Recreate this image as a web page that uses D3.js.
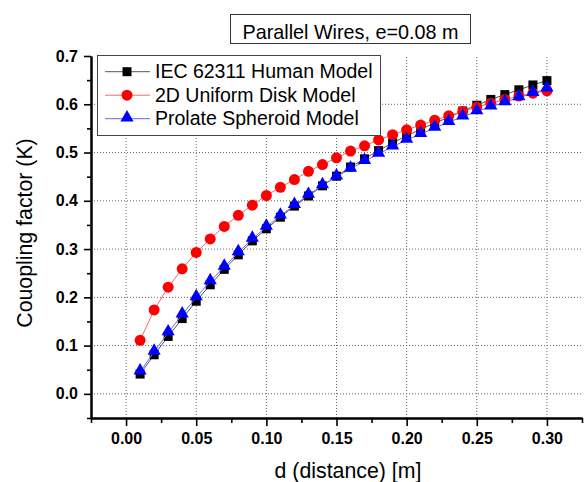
<!DOCTYPE html>
<html lang="en">
<head>
    <meta charset="UTF-8">
    <title>Coupling factor vs distance</title>
    <script src="https://d3js.org/d3.v7.min.js"></script>
    <style>
        body { margin: 0; background: #fff; }
        svg text { font-family: Arial, "Liberation Sans", sans-serif; }
    </style>
</head>
<body>
    <div id="chart"></div>
    <script>
        // distance values (m)
        var dist = [0.01, 0.02, 0.03, 0.04, 0.05, 0.06, 0.07, 0.08, 0.09, 0.10,
                    0.11, 0.12, 0.13, 0.14, 0.15, 0.16, 0.17, 0.18, 0.19, 0.20,
                    0.21, 0.22, 0.23, 0.24, 0.25, 0.26, 0.27, 0.28, 0.29, 0.30];

        var iecHuman = [0.041, 0.081, 0.119, 0.156, 0.192, 0.226, 0.258, 0.288, 0.317, 0.342,
                        0.366, 0.389, 0.410, 0.431, 0.451, 0.470, 0.487, 0.504, 0.520, 0.535,
                        0.548, 0.561, 0.573, 0.586, 0.598, 0.610, 0.620, 0.630, 0.640, 0.649];

        var uniformDisk = [0.111, 0.174, 0.221, 0.259, 0.293, 0.321, 0.347, 0.370, 0.391, 0.411,
                           0.428, 0.444, 0.461, 0.475, 0.489, 0.503, 0.514, 0.526, 0.537, 0.547,
                           0.557, 0.567, 0.576, 0.585, 0.594, 0.602, 0.610, 0.617, 0.623, 0.628];

        var prolate = [0.046, 0.087, 0.127, 0.164, 0.200, 0.233, 0.263, 0.293, 0.321, 0.346,
                       0.369, 0.391, 0.412, 0.432, 0.450, 0.466, 0.482, 0.497, 0.512, 0.526,
                       0.538, 0.551, 0.563, 0.574, 0.585, 0.595, 0.604, 0.614, 0.623, 0.632];

        var xTicks = [0.00, 0.05, 0.10, 0.15, 0.20, 0.25, 0.30];
        var yTicks = [0.0, 0.1, 0.2, 0.3, 0.4, 0.5, 0.6, 0.7];
        var xMinor = [-0.025, 0.025, 0.075, 0.125, 0.175, 0.225, 0.275, 0.325];
        var yMinor = [-0.05, 0.05, 0.15, 0.25, 0.35, 0.45, 0.55, 0.65];

        var seriesNames = ["IEC 62311 Human Model", "2D Uniform Disk Model", "Prolate Spheroid Model"];

        var W = 586, H = 482;
        var margin = {top: 56, right: 4, bottom: 64, left: 91};

        var svg = d3.select("#chart").append("svg")
            .attr("width", W)
            .attr("height", H);

        var x = d3.scaleLinear().domain([-0.025, 0.325]).range([margin.left, W - margin.right]);
        var y = d3.scaleLinear().domain([-0.05, 0.7]).range([H - margin.bottom, margin.top]);

        // dotted grid
        var grid = svg.append("g");
        grid.selectAll(".gx").data(xTicks).enter().append("line")
            .attr("x1", function(d){ return x(d); })
            .attr("x2", function(d){ return x(d); })
            .attr("y1", y(-0.05)).attr("y2", y(0.7))
            .attr("stroke", "#666").attr("stroke-width", 1).attr("stroke-dasharray", "1,2");
        grid.selectAll(".gy").data(yTicks.filter(function(d){ return d < 0.7; })).enter().append("line")
            .attr("x1", x(-0.025)).attr("x2", x(0.325))
            .attr("y1", function(d){ return y(d); })
            .attr("y2", function(d){ return y(d); })
            .attr("stroke", "#666").attr("stroke-width", 1).attr("stroke-dasharray", "1,2");

        // axes
        var xAxis = svg.append("g").attr("transform", "translate(0," + y(-0.05) + ")")
            .call(d3.axisBottom(x).tickValues(xTicks).tickSize(8).tickSizeOuter(0).tickPadding(7)
                .tickFormat(d3.format(".2f")));
        svg.append("g").attr("transform", "translate(0," + y(-0.05) + ")")
            .call(d3.axisBottom(x).tickValues(xMinor).tickSize(5).tickSizeOuter(0).tickFormat(""));

        var yAxis = svg.append("g").attr("transform", "translate(" + x(-0.025) + ",0)")
            .call(d3.axisLeft(y).tickValues(yTicks).tickSize(7).tickSizeOuter(0).tickPadding(6)
                .tickFormat(d3.format(".1f")));
        svg.append("g").attr("transform", "translate(" + x(-0.025) + ",0)")
            .call(d3.axisLeft(y).tickValues(yMinor).tickSize(4).tickSizeOuter(0).tickFormat(""));

        svg.selectAll(".domain").attr("stroke", "#000").attr("stroke-width", 2);
        svg.selectAll(".tick line").attr("stroke", "#000").attr("stroke-width", 1.6);
        xAxis.selectAll("text").attr("font-size", "16px").attr("font-weight", "bold")
            .attr("font-family", "Arial, 'Liberation Sans', sans-serif").attr("fill", "#000");
        yAxis.selectAll("text").attr("font-size", "16px").attr("font-weight", "bold")
            .attr("font-family", "Arial, 'Liberation Sans', sans-serif").attr("fill", "#000");

        // axis titles
        svg.append("text")
            .attr("x", 348).attr("y", 477.5)
            .attr("text-anchor", "middle")
            .attr("font-size", "21.3px")
            .text("d (distance) [m]");
        svg.append("text")
            .attr("transform", "translate(32,233) rotate(-90)")
            .attr("text-anchor", "middle")
            .attr("font-size", "21.3px")
            .text("Couopling factor (K)");

        // series
        var series = [
            {name: seriesNames[0], values: iecHuman, color: "#000", line: "#555", shape: "square"},
            {name: seriesNames[1], values: uniformDisk, color: "#ff0000", line: "#ff6666", shape: "circle"},
            {name: seriesNames[2], values: prolate, color: "#0000ff", line: "#6666ff", shape: "triangle"}
        ];

        var symbolFor = {
            square: d3.symbol().type(d3.symbolSquare).size(81),
            circle: d3.symbol().type(d3.symbolCircle).size(95),
            triangle: d3.symbol().type(d3.symbolTriangle).size(75)
        };

        var line = d3.line()
            .x(function(d){ return x(d[0]); })
            .y(function(d){ return y(d[1]); });

        series.forEach(function(s){
            var pts = dist.map(function(d, i){ return [d, s.values[i]]; });
            svg.append("path")
                .datum(pts)
                .attr("d", line)
                .attr("fill", "none")
                .attr("stroke", s.line)
                .attr("stroke-width", 1);
            svg.append("g").selectAll("path")
                .data(pts).enter().append("path")
                .attr("d", symbolFor[s.shape])
                .attr("transform", function(d){
                    var dy = s.shape === "triangle" ? -1 : 0;
                    return "translate(" + x(d[0]) + "," + (y(d[1]) + dy) + ")";
                })
                .attr("fill", s.color);
        });

        // title box
        svg.append("rect")
            .attr("x", 230.5).attr("y", 14.5).attr("width", 240).attr("height", 29)
            .attr("fill", "#fff").attr("stroke", "#333").attr("stroke-width", 1);
        svg.append("text")
            .attr("x", 350.5).attr("y", 38.5)
            .attr("text-anchor", "middle")
            .attr("font-size", "19.8px")
            .text("Parallel Wires, e=0.08 m");

        // legend
        var legend = svg.append("g");
        legend.append("rect")
            .attr("x", 97.5).attr("y", 55.5).attr("width", 283).attr("height", 80)
            .attr("fill", "#fff").attr("stroke", "#444").attr("stroke-width", 1);
        series.forEach(function(s, i){
            var ly = 71.7 + i * 23.5;
            legend.append("line")
                .attr("x1", 105).attr("x2", 150).attr("y1", ly).attr("y2", ly)
                .attr("stroke", s.line).attr("stroke-width", 1);
            legend.append("path")
                .attr("d", symbolFor[s.shape])
                .attr("transform", "translate(127," + (ly + (s.shape === "triangle" ? -1 : 0)) + ")")
                .attr("fill", s.color);
            legend.append("text")
                .attr("x", 155).attr("y", ly + 6.7)
                .attr("font-size", "19.5px")
                .text(s.name);
        });
    </script>
</body>
</html>
